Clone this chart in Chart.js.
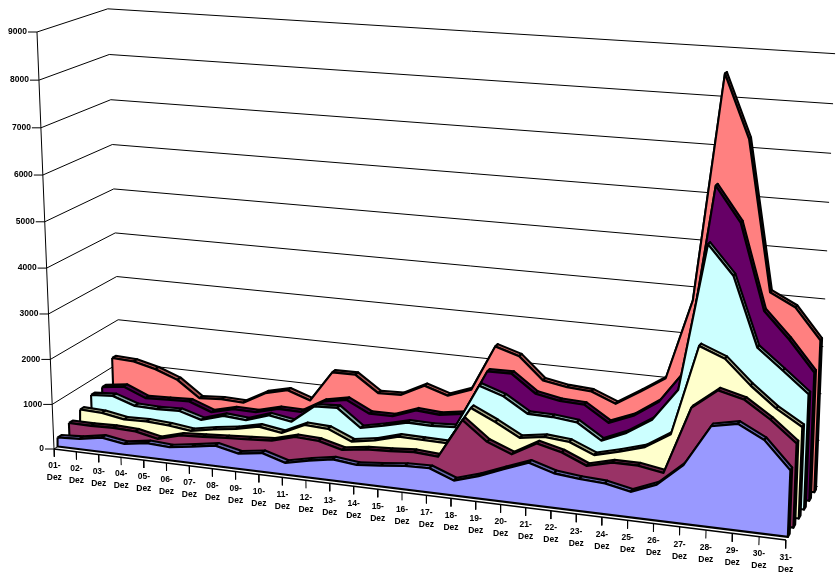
<!DOCTYPE html>
<html>
<head>
<meta charset="utf-8">
<title>Dezember</title>
<script src="https://cdn.jsdelivr.net/npm/chart.js@4/dist/chart.umd.min.js"></script>
<style>
  html, body { margin: 0; padding: 0; background: #fff; }
  canvas { display: block; }
</style>
</head>
<body>
<canvas id="areaChart" width="836" height="585"></canvas>
<script>
const days = ["01", "02", "03", "04", "05", "06", "07", "08", "09", "10", "11", "12", "13", "14", "15", "16",
  "17", "18", "19", "20", "21", "22", "23", "24", "25", "26", "27", "28", "29", "30", "31"];
const yTicks = [0, 1000, 2000, 3000, 4000, 5000, 6000, 7000, 8000, 9000];

// front row to back row
const row1 = [200, 230, 320, 240, 320, 290, 365, 450, 335, 410, 255, 370, 460, 400, 450, 505, 520, 320, 480, 690, 890, 730, 675, 645, 535, 750, 1220, 2080, 2190, 1920, 1365];
const row2 = [360, 355, 370, 350, 240, 380, 410, 445, 475, 510, 650, 625, 490, 565, 590, 630, 590, 1440, 1035, 830, 1125, 995, 770, 905, 905, 815, 2230, 2650, 2515, 2165, 1740];
const row3 = [500, 480, 390, 405, 375, 310, 405, 475, 590, 510, 745, 720, 500, 585, 730, 720, 710, 1535, 1290, 1010, 1090, 1045, 825, 960, 1120, 1455, 3350, 3140, 2645, 2225, 1905];
const row4 = [670, 705, 535, 520, 540, 390, 545, 505, 675, 590, 990, 1020, 630, 740, 870, 860, 890, 1855, 1680, 1360, 1350, 1295, 960, 1190, 1530, 2225, 5295, 4700, 3270, 2850, 2420];
const row5 = [690, 760, 550, 570, 590, 400, 530, 520, 655, 645, 935, 1035, 780, 785, 975, 935, 1015, 2005, 2015, 1635, 1535, 1510, 1175, 1390, 1750, 2465, 6365, 5650, 3885, 3340, 2710];
const row6 = [1210, 1185, 1060, 870, 500, 535, 515, 790, 915, 740, 1435, 1440, 1080, 1100, 1360, 1195, 1390, 2400, 2240, 1765, 1670, 1635, 1425, 1750, 2095, 3810, 8530, 7240, 4130, 3865, 3230];

const rows = [row1, row2, row3, row4, row5, row6];
const faceColors = ["#9999FF", "#993366", "#FFFFCC", "#CCFFFF", "#660066", "#FF8080"];
const topColors = ["#6666AA", "#662244", "#AAAA88", "#88AAAA", "#440044", "#AA5555"];

const maxValue = 9000;
const lastDay = days.length - 1;
const seriesStroke = 2.1;

// perspective box: day runs 0..1 left to right, depth 0..1 front to back, height 0..1
function project(dayIndex, value, depth) {
  const t = dayIndex / lastDay;
  const h = value / maxValue;
  const w = 1 - 0.09375 * t + 0.055 * depth - 0.0423 * h;
  return {
    x: (54 + 658.3 * t + 73.66 * depth - 18.57 * h) / w,
    y: (449 + 40.4 * t - 21.7 * depth - 418.35 * h) / w,
  };
}

const datasets = [];

function addLine(points, width) {
  datasets.push({ data: points, borderColor: "#000", borderWidth: width, showLine: true, pointRadius: 0, tension: 0, borderJoinStyle: "round" });
}

function addPolygon(points, color, width) {
  datasets.push({ data: points.concat([points[0]]), faceColor: color, borderColor: "#000", borderWidth: width, showLine: true, pointRadius: 0, tension: 0, borderJoinStyle: "round" });
}

// side and back wall gridlines
yTicks.forEach((v) => {
  addLine([project(0, v, 0), project(0, v, 1), project(lastDay, v, 1)], 1);
  const p = project(0, v, 0);
  addLine([{ x: p.x - 9, y: p.y }, p], 1);
});
addLine([project(0, 0, 0), project(0, maxValue, 0)], 1);

// floor edge and day ticks
addLine([project(0, 0, 0), project(lastDay, 0, 0)], 1.5);
days.forEach((d, i) => {
  addLine([project(i, 0, 0), project(i, -175, 0)], 1);
});

// rows are painted back to front: end cap, top ribbon, front face
for (let r = rows.length - 1; r >= 0; r--) {
  const values = rows[r];
  const front = (r + 1 / 3) / rows.length;
  const back = (r + 2 / 3) / rows.length;
  const lastValue = values[lastDay];
  addPolygon([
    project(lastDay, lastValue, front), project(lastDay, lastValue, back),
    project(lastDay, 0, back), project(lastDay, 0, front),
  ], topColors[r], seriesStroke);
  for (let i = 0; i < lastDay; i++) {
    addPolygon([
      project(i, values[i], front), project(i + 1, values[i + 1], front),
      project(i + 1, values[i + 1], back), project(i, values[i], back),
    ], topColors[r], seriesStroke);
  }
  const outline = values.map((v, i) => project(i, v, front));
  outline.push(project(lastDay, 0, front), project(0, 0, front));
  addPolygon(outline, faceColors[r], seriesStroke);
}

// closed datasets get their interior filled under the outline
const polygonFill = {
  id: "polygonFill",
  beforeDatasetDraw(chart, args) {
    const color = chart.data.datasets[args.index].faceColor;
    if (!color) return;
    const ctx = chart.ctx;
    ctx.save();
    ctx.beginPath();
    args.meta.data.forEach((pt, i) => {
      if (i === 0) ctx.moveTo(pt.x, pt.y);
      else ctx.lineTo(pt.x, pt.y);
    });
    ctx.closePath();
    ctx.fillStyle = color;
    ctx.fill();
    ctx.restore();
  },
};

const axisLabels = {
  id: "axisLabels",
  afterDraw(chart) {
    const ctx = chart.ctx;
    const sx = chart.scales.x;
    const sy = chart.scales.y;
    ctx.save();
    ctx.fillStyle = "#000";
    ctx.font = 'bold 8.5px "Liberation Sans", Arial, sans-serif';
    ctx.textBaseline = "middle";
    ctx.textAlign = "right";
    yTicks.forEach((v) => {
      const p = project(0, v, 0);
      ctx.fillText(String(v), sx.getPixelForValue(p.x - 10), sy.getPixelForValue(p.y));
    });
    ctx.textAlign = "center";
    days.forEach((d, i) => {
      const p = project(i, -175, 0);
      const x = sx.getPixelForValue(p.x);
      const y = sy.getPixelForValue(p.y);
      ctx.fillText(d + "-", x, y + 9);
      ctx.fillText("Dez", x, y + 21);
    });
    ctx.restore();
  },
};

new Chart(document.getElementById("areaChart"), {
  type: "scatter",
  data: { datasets: datasets.reverse() },
  options: {
    responsive: false,
    animation: false,
    layout: { padding: 0 },
    plugins: { legend: { display: false }, tooltip: { enabled: false } },
    scales: {
      x: { type: "linear", min: 0, max: 836, display: false },
      y: { type: "linear", min: 0, max: 585, reverse: true, display: false },
    },
  },
  plugins: [polygonFill, axisLabels],
});
</script>
</body>
</html>
